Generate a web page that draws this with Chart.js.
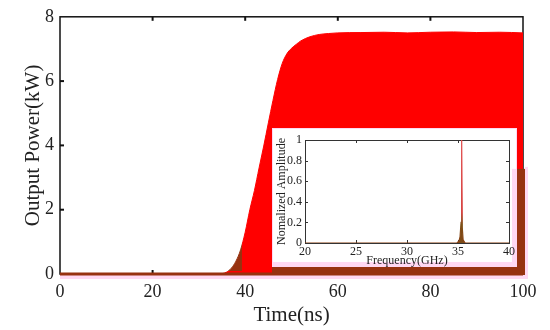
<!DOCTYPE html>
<html><head><meta charset="utf-8">
<script src="https://cdn.jsdelivr.net/npm/chart.js@4/dist/chart.umd.min.js"></script>
<style>
html,body{margin:0;padding:0;background:#fff;}
#wrap{position:relative;width:550px;height:330px;overflow:hidden;}
#main{position:absolute;left:0;top:0;}
#inset{position:absolute;left:272px;top:128px;}
</style></head><body>
<div id="wrap"><canvas id="main" width="550" height="330"></canvas><canvas id="inset" width="246" height="139"></canvas></div>
<script>
// ---- main chart data (envelope of the output power) ----
const timeNs  = [0, 30, 34, 35, 36, 37, 38, 39, 40, 41, 42, 43, 44, 45, 46, 47, 48, 49, 50, 51, 52, 54, 56, 58, 60, 65, 70, 75, 80, 85, 90, 95, 100];
const powerKW = [0, 0, 0, 0.01, 0.06, 0.18, 0.4, 0.75, 1.3, 2.0, 2.6, 3.3, 3.98, 4.7, 5.4, 6.05, 6.55, 6.85, 7.02, 7.14, 7.25, 7.38, 7.45, 7.48, 7.5, 7.51, 7.52, 7.5, 7.52, 7.53, 7.51, 7.52, 7.5];
const xTicksMain = [0, 20, 40, 60, 80, 100];
const yTicksMain = [0, 2, 4, 6, 8];

// ---- inset data (normalized spectrum) ----
const freqGHz = [20, 30, 34.9, 35.1, 35.2, 35.3, 35.36, 35.42, 35.5, 35.7, 40];
const normAmp = [0, 0, 0, 0.02, 0.06, 0.2, 1, 0.15, 0.03, 0, 0];
const xTicksInset = [20, 25, 30, 35, 40];
const yTicksInset = [0, 0.2, 0.4, 0.6, 0.8, 1];
const yTickLabelsInset = ['0', '0.2', '0.4', '0.6', '0.8', '1'];

const SERIF = "'Liberation Serif', 'DejaVu Serif', serif";
const TXT = '#222';
const RED = '#ff0000';
const BROWN = '#973210';
const PINK = '#ffd8f3';

function line(ctx, x1, y1, x2, y2){ ctx.beginPath(); ctx.moveTo(x1,y1); ctx.lineTo(x2,y2); ctx.stroke(); }

const mainDecor = {
  id: 'mainDecor',
  beforeDatasetsDraw(chart){
    const {ctx, chartArea:a, scales:{x, y}} = chart;
    ctx.save();
    ctx.strokeStyle = '#111'; ctx.lineWidth = 1.5;
    ctx.strokeRect(a.left, a.top, a.right - a.left, a.bottom - a.top);
    ctx.lineWidth = 2;
    xTicksMain.forEach(v => { if (v > x.min && v < x.max){ const p = x.getPixelForValue(v); line(ctx,p,a.bottom,p,a.bottom-4); line(ctx,p,a.top,p,a.top+4);} });
    yTicksMain.forEach(v => { if (v > y.min && v < y.max){ const p = y.getPixelForValue(v); line(ctx,a.left,p,a.left+4,p); line(ctx,a.right,p,a.right-4,p);} });
    ctx.restore();
  },
  afterDatasetsDraw(chart){
    const {ctx, chartArea:a, scales:{x, y}} = chart;
    const y0 = y.getPixelForValue(0);
    const tx = x.getPixelForValue(33);
    const fx = x.getPixelForValue(39.3), fy = y.getPixelForValue(3.27);
    ctx.save();
    // darker tint of the trace under the old inset frame
    ctx.globalCompositeOperation = 'source-atop';
    ctx.fillStyle = BROWN;
    ctx.fillRect(tx, fy, fx - tx, y0 - fy - 3);
    ctx.globalCompositeOperation = 'source-over';
    // inset background
    ctx.fillStyle = '#fff';
    ctx.fillRect(272, 128, 245, 139);
    ctx.strokeStyle = PINK; ctx.lineWidth = 1;
    ctx.strokeRect(272.5, 128.5, 244, 138);
    // pink halo of old frame
    ctx.fillStyle = PINK;
    ctx.fillRect(512, fy, 5, y0 - fy);
    ctx.fillRect(525, fy - 2, 3, y0 - fy + 7);
    ctx.fillRect(272, 262, 245, 5);
    ctx.fillRect(a.left, y0 + 1, 468, 4);
    // brown frame
    ctx.fillStyle = BROWN;
    ctx.fillRect(517, fy, 8, y0 - fy + 1);
    ctx.fillRect(272, 267, 253, 7);
    ctx.fillRect(a.left, y0 - 1.5, a.right - a.left, 3);
    ctx.restore();
  }
};

new Chart(document.getElementById('main'), {
  type: 'line',
  data: { datasets: [{
    data: timeNs.map((t, i) => ({x: t, y: powerKW[i]})),
    borderColor: RED, backgroundColor: RED, borderWidth: 1,
    fill: 'origin', pointRadius: 0, cubicInterpolationMode: 'monotone'
  }]},
  options: {
    responsive: false, animation: false, devicePixelRatio: 1,
    layout: { padding: { top: 15, right: 27, left: 0, bottom: 0 } },
    plugins: { legend: {display:false}, tooltip: {enabled:false} },
    scales: {
      x: {
        type: 'linear', min: 0, max: 100,
        afterBuildTicks: s => { s.ticks = xTicksMain.map(v => ({value: v})); },
        afterFit: s => { s.height = 56; },
        grid: {display:false, drawTicks:false}, border: {display:false},
        ticks: { font: {family: SERIF, size: 18}, color: TXT, padding: 7, maxRotation: 0, autoSkip: false },
        title: { display: true, text: 'Time(ns)', font: {family: SERIF, size: 21}, color: TXT, padding: {top:0, bottom:2} }
      },
      y: {
        min: 0, max: 8,
        afterBuildTicks: s => { s.ticks = yTicksMain.map(v => ({value: v})); },
        afterFit: s => { s.width = 60; },
        grid: {display:false, drawTicks:false}, border: {display:false},
        ticks: { font: {family: SERIF, size: 18}, color: TXT, padding: 6 },
        title: { display: true, text: 'Output Power(kW)', font: {family: SERIF, size: 21}, color: TXT, padding: {top:21, bottom:0} }
      }
    }
  },
  plugins: [mainDecor]
});

const insetDecor = {
  id: 'insetDecor',
  beforeDatasetsDraw(chart){
    const {ctx, chartArea:a, scales:{x, y}} = chart;
    ctx.save();
    ctx.strokeStyle = '#333'; ctx.lineWidth = 1;
    ctx.strokeRect(Math.round(a.left)+0.5, Math.round(a.top)+0.5, Math.round(a.right-a.left), Math.round(a.bottom-a.top));
    xTicksInset.forEach(v => { if (v > x.min && v < x.max){ const p = Math.round(x.getPixelForValue(v))+0.5; line(ctx,p,a.bottom,p,a.bottom-3); line(ctx,p,a.top,p,a.top+3);} });
    yTicksInset.forEach(v => { if (v > y.min && v < y.max){ const p = Math.round(y.getPixelForValue(v))+0.5; line(ctx,a.left,p,a.left+3,p); line(ctx,a.right,p,a.right-3,p);} });
    ctx.restore();
  }
};

function spikeGradient(c){
  const ch = c.chart, a = ch.chartArea;
  if (!a) return BROWN;
  const g = ch.ctx.createLinearGradient(0, a.bottom, 0, a.top);
  g.addColorStop(0, '#8a3f12'); g.addColorStop(0.18, '#7d5218'); g.addColorStop(0.3, '#d83a3a'); g.addColorStop(1, '#e04a4a');
  return g;
}

new Chart(document.getElementById('inset'), {
  type: 'line',
  data: { datasets: [{
    data: freqGHz.map((f, i) => ({x: f, y: normAmp[i]})),
    borderColor: spikeGradient, backgroundColor: '#7d4a16', borderWidth: 1.2,
    fill: 'origin', pointRadius: 0, tension: 0
  }]},
  options: {
    responsive: false, animation: false, devicePixelRatio: 1,
    layout: { padding: { top: 12, right: 9, left: 0, bottom: 0 } },
    plugins: { legend: {display:false}, tooltip: {enabled:false} },
    scales: {
      x: {
        type: 'linear', min: 20, max: 40,
        afterBuildTicks: s => { s.ticks = xTicksInset.map(v => ({value: v})); },
        afterFit: s => { s.height = 24; },
        grid: {display:false, drawTicks:false}, border: {display:false},
        ticks: { font: {family: SERIF, size: 12}, color: TXT, padding: 2, maxRotation: 0, autoSkip: false },
        title: { display: true, text: 'Frequency(GHz)', font: {family: SERIF, size: 12, lineHeight: 1}, color: TXT, padding: {top:0, bottom:0} }
      },
      y: {
        min: 0, max: 1,
        afterBuildTicks: s => { s.ticks = yTicksInset.map(v => ({value: v})); },
        afterFit: s => { s.width = 33; },
        grid: {display:false, drawTicks:false}, border: {display:false},
        ticks: { font: {family: SERIF, size: 12}, color: TXT, padding: 3,
                 callback: (v) => { const i = yTicksInset.indexOf(v); return i >= 0 ? yTickLabelsInset[i] : ''; } },
        title: { display: true, text: 'Nomalized Amplitude', font: {family: SERIF, size: 12, lineHeight: 1}, color: TXT, padding: {top:4, bottom:0} }
      }
    }
  },
  plugins: [insetDecor]
});
</script>
</body></html>
